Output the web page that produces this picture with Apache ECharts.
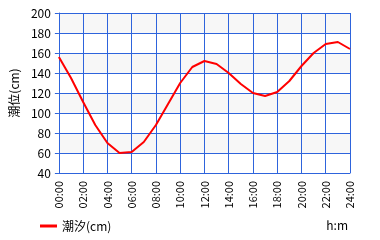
<!DOCTYPE html>
<html>
<head>
<meta charset="utf-8">
<script src="https://cdn.jsdelivr.net/npm/echarts@6/dist/echarts.min.js"></script>
<style>
html,body{margin:0;padding:0;background:#fff;}
#c{width:380px;height:240px;}
</style>
</head>
<body>
<div id="c"></div>
<script>
const hours = [0,1,2,3,4,5,6,7,8,9,10,11,12,13,14,15,16,17,18,19,20,21,22,23,24];
const tide = [156,135,111,88,70,60,61,71,88,109,130,146,152,149,140,129,120,117,121,132,147,160,169,171,164];
const seriesName = '潮汐(cm)';
const yAxisName = '潮位(cm)';
const xUnit = 'h:m';

const FONT = '"Noto Sans CJK JP", sans-serif';
const BLUE = '#2e64dc';
const chart = echarts.init(document.getElementById('c'), null, {renderer:'canvas'});
chart.setOption({
  animation:false,
  backgroundColor:'#fff',
  grid:{left:55, right:30, top:13, bottom:67},
  title:{text:xUnit, right:32, top:219, padding:0, textStyle:{fontFamily:FONT, fontSize:12, fontWeight:'normal', color:'#000'}},
  legend:{
    left:40, top:220, padding:0, icon:'rect', itemWidth:17, itemHeight:3, itemGap:4,
    textStyle:{fontFamily:FONT, fontSize:12, color:'#000'},
    data:[seriesName]
  },
  xAxis:{
    type:'value', min:0, max:24, interval:2,
    axisLine:{show:true, lineStyle:{color:BLUE, width:1}},
    axisTick:{show:false},
    splitLine:{show:true, lineStyle:{color:BLUE, width:1}},
    axisLabel:{
      rotate:90, margin:8, fontFamily:FONT, fontSize:11, color:'#000',
      formatter: v => String(v).padStart(2,'0') + ':00'
    }
  },
  yAxis:{
    type:'value', min:40, max:200, interval:20,
    name:yAxisName, nameLocation:'middle', nameGap:33,
    nameTextStyle:{fontFamily:FONT, fontSize:12, color:'#000'},
    axisLine:{show:true, lineStyle:{color:BLUE, width:1}},
    axisTick:{show:true, length:4, lineStyle:{color:BLUE}},
    splitLine:{show:true, lineStyle:{color:BLUE, width:1}},
    splitArea:{show:true, areaStyle:{color:['#ffffff','#f7f7f7']}},
    axisLabel:{margin:8, fontFamily:FONT, fontSize:12, color:'#000'}
  },
  series:[{
    name:seriesName, type:'line', showSymbol:false, symbol:'none',
    data: hours.map((h,i)=>[h, tide[i]]),
    lineStyle:{color:'#ff0000', width:2},
    itemStyle:{color:'#ff0000'}
  }]
});
</script>
</body>
</html>
